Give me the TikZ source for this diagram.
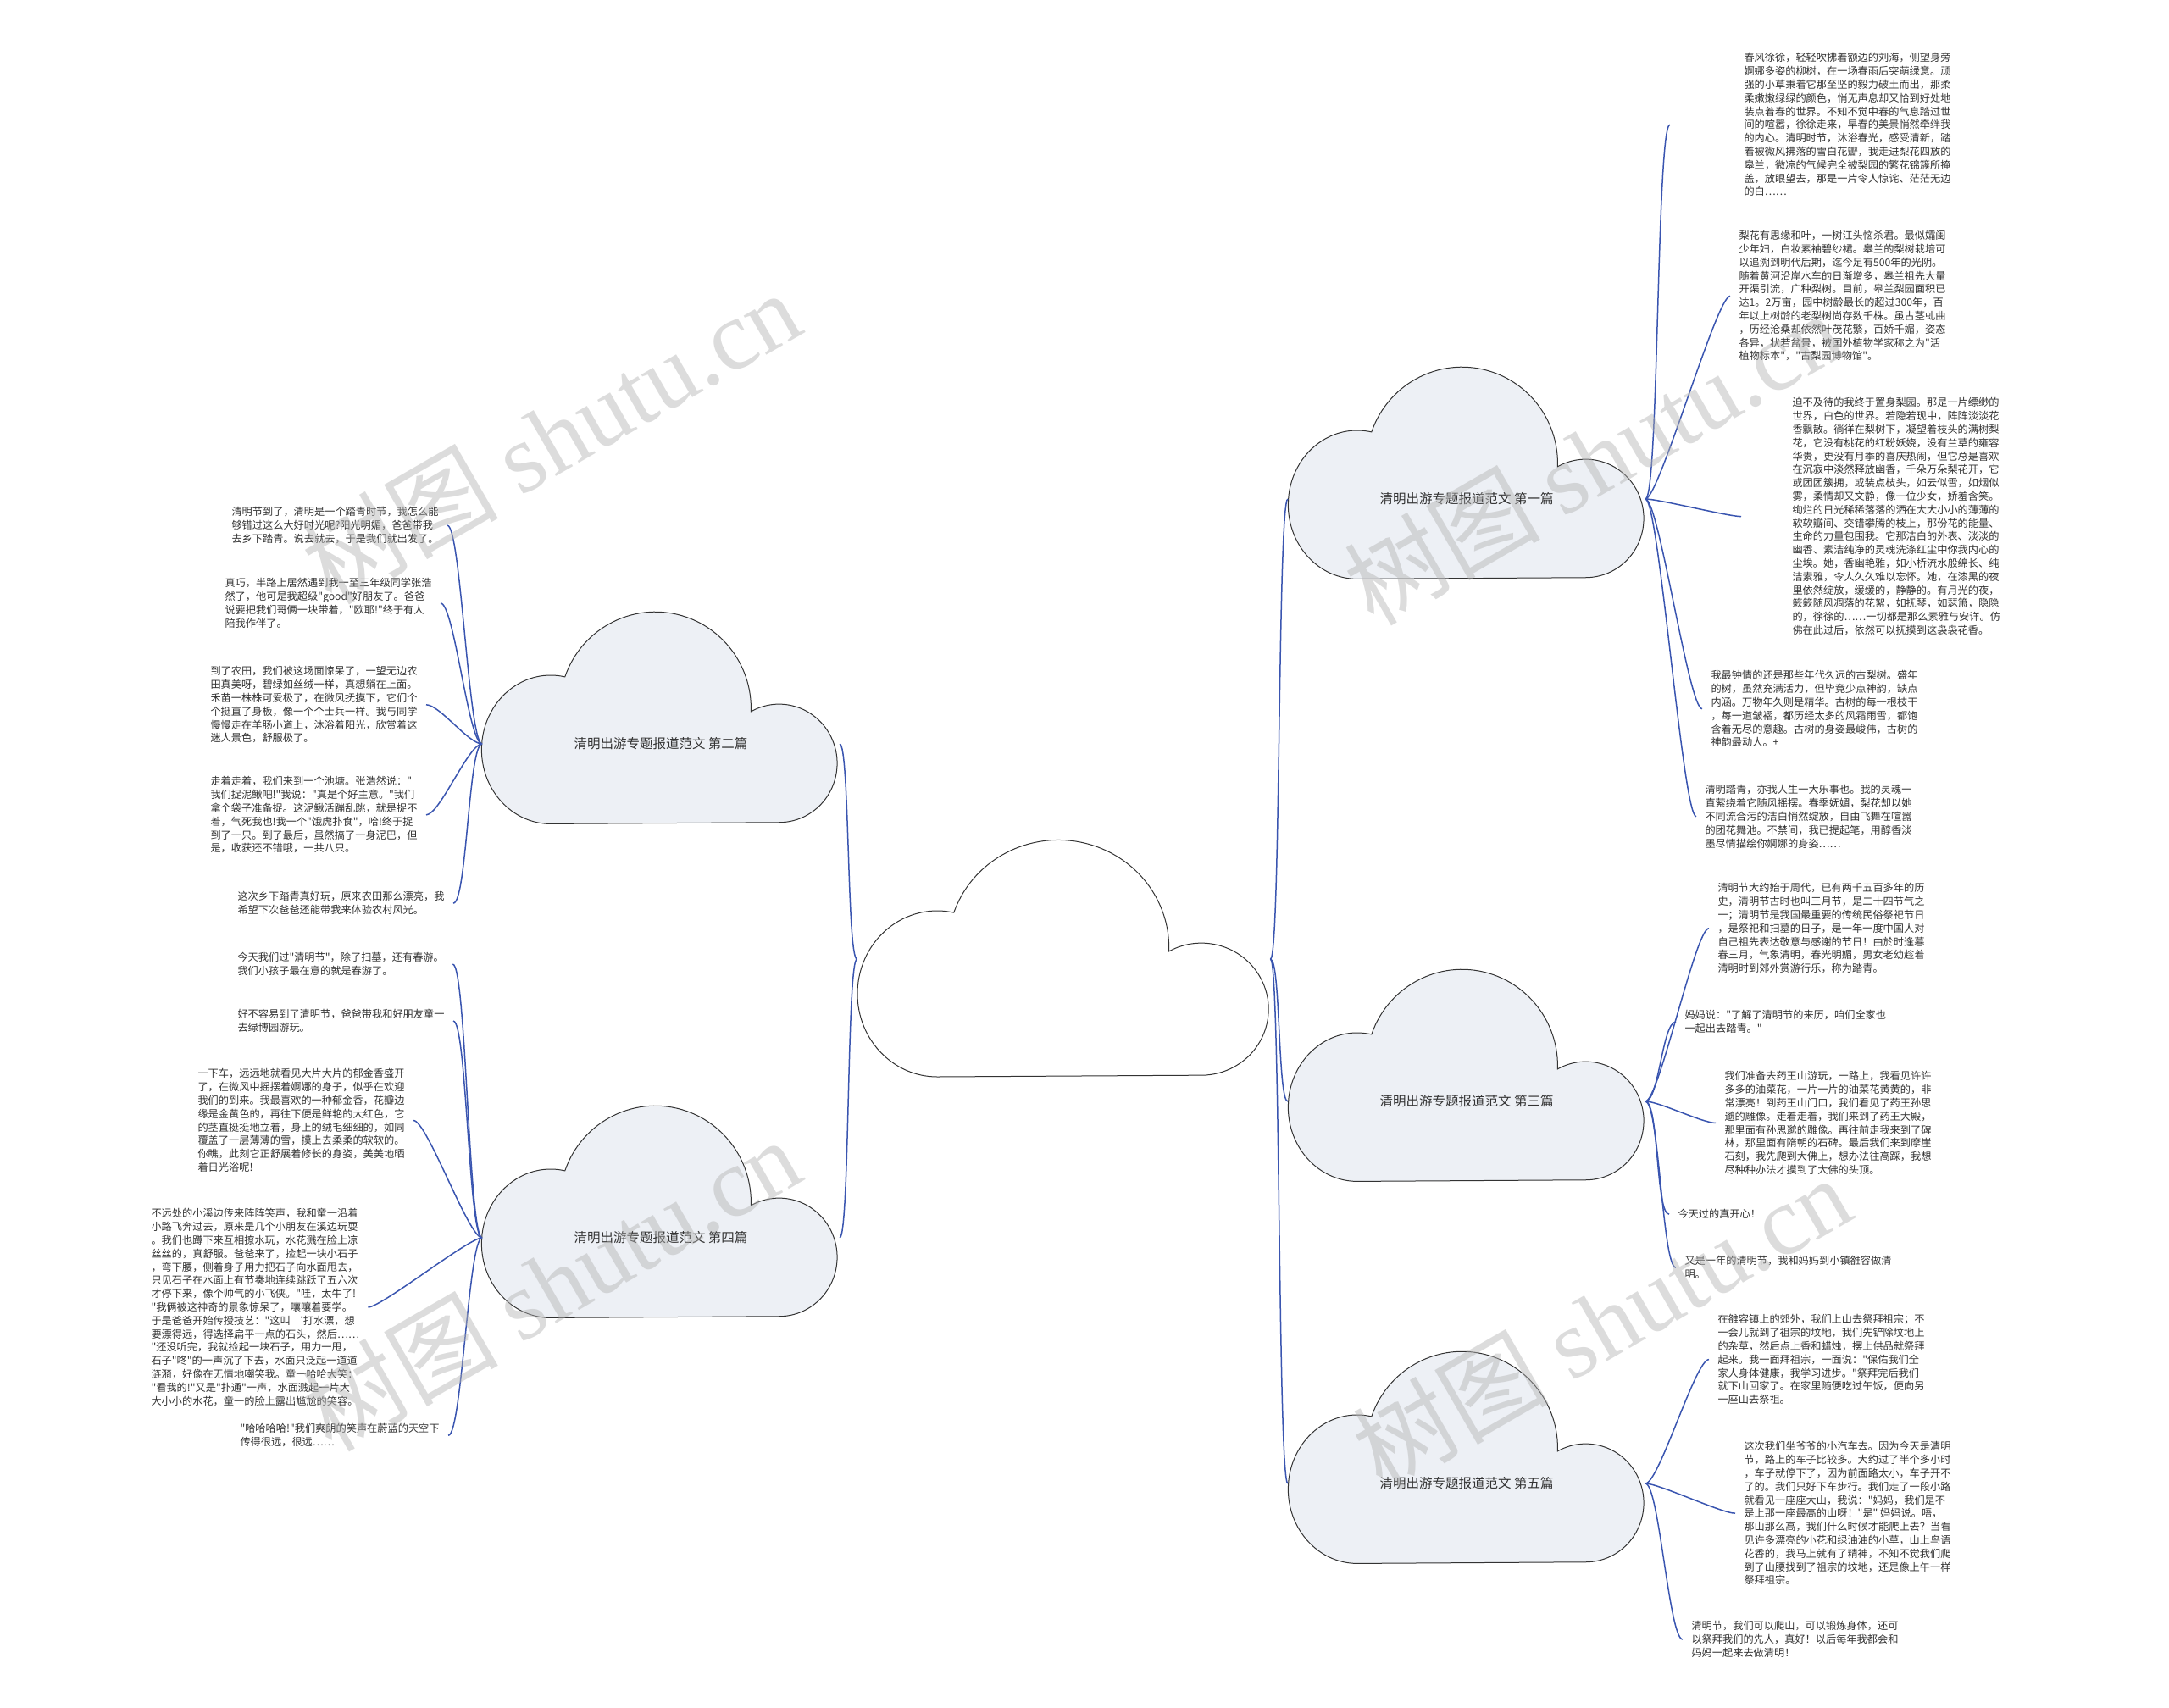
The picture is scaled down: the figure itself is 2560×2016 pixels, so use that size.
\documentclass[tikz,border=0pt]{standalone}
\usepackage{fontspec}
\newfontfamily\cjk{Noto Sans CJK SC}
\newfontfamily\wmlat{Liberation Serif}
\usetikzlibrary{positioning}
\definecolor{linkblue}{HTML}{3A55B0}
\definecolor{cloudfill}{HTML}{EDF0F5}
\definecolor{inkgray}{HTML}{333333}
\tikzset{every picture/.style={line width=1pt}}
\tikzset{
  pics/cloudshape/.style={code={
    \path[pic actions] (-149.3,139) arc[start angle=90,end angle=282,x radius=94.2,y radius=98]
      arc[start angle=199,end angle=362,x radius=130.5,y radius=127]
      arc[start angle=241,end angle=450,x radius=79.2,y radius=78] -- cycle;}},
  cloudtitle/.style={inner sep=0pt, minimum width=421pt, minimum height=248pt,
    font=\cjk\fontsize{15.5}{18}\selectfont, text=inkgray},
  para/.style={anchor=north west, inner xsep=10pt, inner ysep=0pt, align=left,
    font=\cjk\fontsize{12.2}{15.8}\selectfont, text=inkgray},
  link/.style={draw=linkblue, line width=1.5pt},
  watermark/.style={rotate=30, text=gray!60, opacity=0.45,
    font=\cjk\fontsize{116}{116}\selectfont}
}

\begin{document}
\begin{tikzpicture}[x=1pt,y=-1pt]
  \fill[white] (0,0) rectangle (2560,2016);
  \useasboundingbox (0,0) rectangle (2560,2016);

  % clouds
  \pic[draw=inkgray, fill=white] at (1255.5,1132) {cloudshape};
  \node[cloudtitle, minimum width=487pt, minimum height=277pt] (hub) at (1255.5,1132) {};
  \pic[draw=inkgray, fill=cloudfill, xscale=0.865, yscale=0.895] at (1731,559) {cloudshape};
  \node[cloudtitle] (p1) at (1731,589) {清明出游专题报道范文 第一篇};
  \pic[draw=inkgray, fill=cloudfill, xscale=0.865, yscale=0.895] at (779,848) {cloudshape};
  \node[cloudtitle] (p2) at (780,878) {清明出游专题报道范文 第二篇};
  \pic[draw=inkgray, fill=cloudfill, xscale=0.865, yscale=0.895] at (1731,1270) {cloudshape};
  \node[cloudtitle] (p3) at (1731,1300) {清明出游专题报道范文 第三篇};
  \pic[draw=inkgray, fill=cloudfill, xscale=0.865, yscale=0.895] at (779,1431) {cloudshape};
  \node[cloudtitle] (p4) at (780,1461) {清明出游专题报道范文 第四篇};
  \pic[draw=inkgray, fill=cloudfill, xscale=0.865, yscale=0.895] at (1731,1721) {cloudshape};
  \node[cloudtitle] (p5) at (1731,1751) {清明出游专题报道范文 第五篇};

  % right side texts
  \node[para, inner xsep=87pt] (r1) at (1971,62) {春风徐徐，轻轻吹拂着额边的刘海，侧望身旁\\婀娜多姿的柳树，在一场春雨后突萌绿意。顽\\强的小草秉着它那至坚的毅力破土而出，那柔\\柔嫩嫩绿绿的颜色，悄无声息却又恰到好处地\\装点着春的世界。不知不觉中春的气息踏过世\\间的喧嚣，徐徐走来，早春的美景悄然牵绊我\\的内心。清明时节，沐浴春光，感受清新，踏\\着被微风拂落的雪白花瓣，我走进梨花四放的\\皋兰，微凉的气候完全被梨园的繁花锦簇所掩\\盖，放眼望去，那是一片令人惊诧、茫茫无边\\的白……};
  \node[para] (r2) at (2042,272) {梨花有思缘和叶，一树江头恼杀君。最似孀闺\\少年妇，白妆素袖碧纱裙。皋兰的梨树栽培可\\以追溯到明代后期，迄今足有500年的光阴。\\随着黄河沿岸水车的日渐增多，皋兰祖先大量\\开渠引流，广种梨树。目前，皋兰梨园面积已\\达1。2万亩，园中树龄最长的超过300年，百\\年以上树龄的老梨树尚存数千株。虽古茎虬曲\\，历经沧桑却依然叶茂花繁，百娇千媚，姿态\\各异，状若盆景，被国外植物学家称之为"活\\植物标本"，"古梨园博物馆"。};
  \node[para, inner xsep=60pt] (r3) at (2055,469) {迫不及待的我终于置身梨园。那是一片缥缈的\\世界，白色的世界。若隐若现中，阵阵淡淡花\\香飘散。徜徉在梨树下，凝望着枝头的满树梨\\花，它没有桃花的红粉妖娆，没有兰草的雍容\\华贵，更没有月季的喜庆热闹，但它总是喜欢\\在沉寂中淡然释放幽香，千朵万朵梨花开，它\\或团团簇拥，或装点枝头，如云似雪，如烟似\\雾，柔情却又文静，像一位少女，娇羞含笑。\\绚烂的日光稀稀落落的洒在大大小小的薄薄的\\软软瓣间、交错攀腾的枝上，那份花的能量、\\生命的力量包围我。它那洁白的外表、淡淡的\\幽香、素洁纯净的灵魂洗涤红尘中你我内心的\\尘埃。她，香幽艳雅，如小桥流水般绵长、纯\\洁素雅，令人久久难以忘怀。她，在漆黑的夜\\里依然绽放，缓缓的，静静的。有月光的夜，\\簌簌随风凋落的花絮，如抚琴，如瑟箫，隐隐\\的，徐徐的……一切都是那么素雅与安详。仿\\佛在此过后，依然可以抚摸到这袅袅花香。};
  \node[para] (r4) at (2009,791) {我最钟情的还是那些年代久远的古梨树。盛年\\的树，虽然充满活力，但毕竟少点神韵，缺点\\内涵。万物年久则是精华。古树的每一根枝干\\，每一道皱褶，都历经太多的风霜雨雪，都饱\\含着无尽的意趣。古树的身姿最峻伟，古树的\\神韵最动人。+};
  \node[para] (r5) at (2002,926) {清明踏青，亦我人生一大乐事也。我的灵魂一\\直萦绕着它随风摇摆。春季妩媚，梨花却以她\\不同流合污的洁白悄然绽放，自由飞舞在喧嚣\\的团花舞池。不禁间，我已提起笔，用醇香淡\\墨尽情描绘你婀娜的身姿……};
  \node[para] (r6) at (2017,1042) {清明节大约始于周代，已有两千五百多年的历\\史，清明节古时也叫三月节，是二十四节气之\\一；清明节是我国最重要的传统民俗祭祀节日\\，是祭祀和扫墓的日子，是一年一度中国人对\\自己祖先表达敬意与感谢的节日！由於时逢暮\\春三月，气象清明，春光明媚，男女老幼趁着\\清明时到郊外赏游行乐，称为踏青。};
  \node[para] (r7) at (1978,1192) {妈妈说："了解了清明节的来历，咱们全家也\\一起出去踏青。"};
  \node[para] (r8) at (2025,1264) {我们准备去药王山游玩，一路上，我看见许许\\多多的油菜花，一片一片的油菜花黄黄的，非\\常漂亮！到药王山门口，我们看见了药王孙思\\邈的雕像。走着走着，我们来到了药王大殿，\\那里面有孙思邈的雕像。再往前走我来到了碑\\林，那里面有隋朝的石碑。最后我们来到摩崖\\石刻，我先爬到大佛上，想办法往高踩，我想\\尽种种办法才摸到了大佛的头顶。};
  \node[para] (r9) at (1970,1427) {今天过的真开心！};
  \node[para] (r10) at (1978,1482) {又是一年的清明节，我和妈妈到小镇雒容做清\\明。};
  \node[para] (r11) at (2017,1551) {在雒容镇上的郊外，我们上山去祭拜祖宗；不\\一会儿就到了祖宗的坟地，我们先铲除坟地上\\的杂草，然后点上香和蜡烛，摆上供品就祭拜\\起来。我一面拜祖宗，一面说："保佑我们全\\家人身体健康，我学习进步。"祭拜完后我们\\就下山回家了。在家里随便吃过午饭，便向另\\一座山去祭祖。};
  \node[para] (r12) at (2048,1701) {这次我们坐爷爷的小汽车去。因为今天是清明\\节，路上的车子比较多。大约过了半个多小时\\，车子就停下了，因为前面路太小，车子开不\\了的。我们只好下车步行。我们走了一段小路\\就看见一座座大山，我说："妈妈，我们是不\\是上那一座最高的山呀！"是" 妈妈说。唔，\\那山那么高，我们什么时候才能爬上去？当看\\见许多漂亮的小花和绿油油的小草，山上鸟语\\花香的，我马上就有了精神，不知不觉我们爬\\到了山腰找到了祖宗的坟地，还是像上午一样\\祭拜祖宗。};
  \node[para] (r13) at (1986,1913) {清明节，我们可以爬山，可以锻炼身体，还可\\以祭拜我们的先人，真好！以后每年我都会和\\妈妈一起来去做清明！};

  % left side texts
  \node[para] (l1) at (263,598) {清明节到了，清明是一个踏青时节，我怎么能\\够错过这么大好时光呢?阳光明媚，爸爸带我\\去乡下踏青。说去就去，于是我们就出发了。};
  \node[para] (l2) at (255,682) {真巧，半路上居然遇到我一至三年级同学张浩\\然了，他可是我超级"good"好朋友了。爸爸\\说要把我们哥俩一块带着，"欧耶!"终于有人\\陪我作伴了。};
  \node[para] (l3) at (238,786) {到了农田，我们被这场面惊呆了，一望无边农\\田真美呀，碧绿如丝绒一样，真想躺在上面。\\禾苗一株株可爱极了，在微风抚摸下，它们个\\个挺直了身板，像一个个士兵一样。我与同学\\慢慢走在羊肠小道上，沐浴着阳光，欣赏着这\\迷人景色，舒服极了。};
  \node[para] (l4) at (238,916) {走着走着，我们来到一个池塘。张浩然说："\\我们捉泥鳅吧!"我说："真是个好主意。"我们\\拿个袋子准备捉。这泥鳅活蹦乱跳，就是捉不\\着，气死我也!我一个"饿虎扑食"，哈!终于捉\\到了一只。到了最后，虽然搞了一身泥巴，但\\是，收获还不错哦，一共八只。};
  \node[para] (l5) at (270,1052) {这次乡下踏青真好玩，原来农田那么漂亮，我\\希望下次爸爸还能带我来体验农村风光。};
  \node[para] (l6) at (270,1124) {今天我们过"清明节"，除了扫墓，还有春游。\\我们小孩子最在意的就是春游了。};
  \node[para] (l7) at (270,1191) {好不容易到了清明节，爸爸带我和好朋友童一\\去绿博园游玩。};
  \node[para] (l8) at (223,1261) {一下车，远远地就看见大片大片的郁金香盛开\\了，在微风中摇摆着婀娜的身子，似乎在欢迎\\我们的到来。我最喜欢的一种郁金香，花瓣边\\缘是金黄色的，再往下便是鲜艳的大红色，它\\的茎直挺挺地立着，身上的绒毛细细的，如同\\覆盖了一层薄薄的雪，摸上去柔柔的软软的。\\你瞧，此刻它正舒展着修长的身姿，美美地晒\\着日光浴呢!};
  \node[para] (l9) at (168,1426) {不远处的小溪边传来阵阵笑声，我和童一沿着\\小路飞奔过去，原来是几个小朋友在溪边玩耍\\。我们也蹲下来互相撩水玩，水花溅在脸上凉\\丝丝的，真舒服。爸爸来了，捡起一块小石子\\，弯下腰，侧着身子用力把石子向水面甩去，\\只见石子在水面上有节奏地连续跳跃了五六次\\才停下来，像个帅气的小飞侠。"哇，太牛了!\\"我俩被这神奇的景象惊呆了，嚷嚷着要学。\\于是爸爸开始传授技艺："这叫 ‘打水漂，想\\要漂得远，得选择扁平一点的石头，然后……\\"还没听完，我就捡起一块石子，用力一甩，\\石子"咚"的一声沉了下去，水面只泛起一道道\\涟漪，好像在无情地嘲笑我。童一哈哈大笑：\\"看我的!"又是"扑通"一声，水面溅起一片大\\大小小的水花，童一的脸上露出尴尬的笑容。};
  \node[para] (l10) at (273,1680) {"哈哈哈哈!"我们爽朗的笑声在蔚蓝的天空下\\传得很远，很远……};

  % connectors
  \foreach \p in {p1,p3,p5}{
    \draw[link] (hub.east) .. controls +(12,0) and +(-12,0) .. (\p.west);
  }
  \foreach \p in {p2,p4}{
    \draw[link] (hub.west) .. controls +(-12,0) and +(12,0) .. (\p.east);
  }
  \foreach \t in {r1,r2,r3,r4,r5}{
    \draw[link] (p1.east) .. controls +(16,0) and +(-16,0) .. (\t.west);
  }
  \foreach \t in {r6,r7,r8,r9,r10}{
    \draw[link] (p3.east) .. controls +(16,0) and +(-16,0) .. (\t.west);
  }
  \foreach \t in {r11,r12,r13}{
    \draw[link] (p5.east) .. controls +(16,0) and +(-16,0) .. (\t.west);
  }
  \foreach \t in {l1,l2,l3,l4,l5}{
    \draw[link] (p2.west) .. controls +(-16,0) and +(16,0) .. (\t.east);
  }
  \foreach \t in {l6,l7,l8,l9,l10}{
    \draw[link] (p4.west) .. controls +(-16,0) and +(16,0) .. (\t.east);
  }

  % watermarks
  \node[watermark] (wm1) at (650,515) {树图 {\wmlat shutu.cn}};
  \node[watermark] (wm2) at (650,1515) {树图 {\wmlat shutu.cn}};
  \node[watermark] (wm3) at (1880,540) {树图 {\wmlat shutu.cn}};
  \node[watermark] (wm4) at (1890,1560) {树图 {\wmlat shutu.cn}};
\end{tikzpicture}
\end{document}
